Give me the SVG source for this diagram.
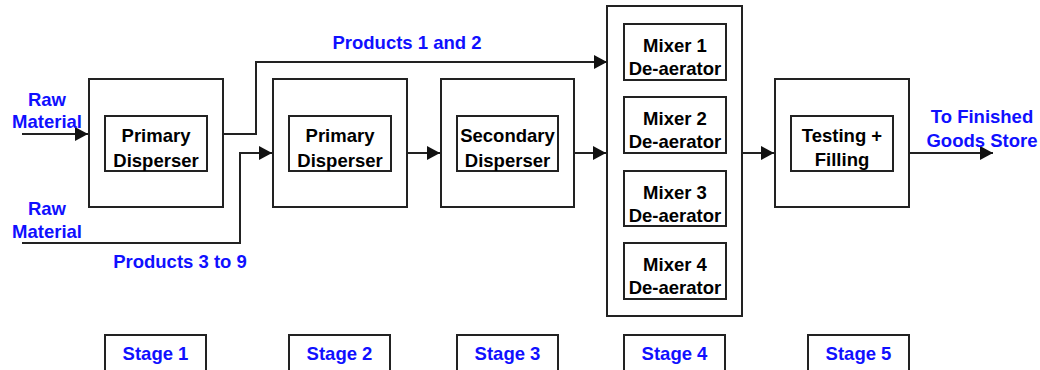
<svg xmlns="http://www.w3.org/2000/svg" width="1040" height="370" viewBox="0 0 1040 370">
<style>
.box{fill:#fff;stroke:#222;stroke-width:2}
.t{font-family:"Liberation Sans",Arial,sans-serif;font-weight:bold;font-size:18.5px;text-anchor:middle;fill:#000}
.b{fill:#1010ff}
.c{fill:none;stroke:#222;stroke-width:2}
</style>
<defs>
<marker id="ah" markerUnits="userSpaceOnUse" markerWidth="14" markerHeight="14" refX="13" refY="7" orient="auto">
<path d="M0,0 L13,7 L0,14 z" fill="#111"/>
</marker>
</defs>
<rect width="1040" height="370" fill="#fff"/>
<g id="stage1">
<rect class="box" x="89" y="79" width="134" height="128"/>
<rect class="box" x="105" y="116" width="102" height="55"/>
<text class="t" x="156" y="142">Primary</text>
<text class="t" x="156" y="167">Disperser</text>
</g>
<g id="stage2">
<rect class="box" x="273" y="79" width="134" height="128"/>
<rect class="box" x="289" y="116" width="102" height="55"/>
<text class="t" x="340" y="142">Primary</text>
<text class="t" x="340" y="167">Disperser</text>
</g>
<g id="stage3">
<rect class="box" x="441" y="79" width="133" height="128"/>
<rect class="box" x="457" y="116" width="101" height="55"/>
<text class="t" x="507.5" y="142">Secondary</text>
<text class="t" x="507.5" y="167">Disperser</text>
</g>
<g id="stage4">
<rect class="box" x="607" y="6" width="135" height="310"/>
<rect class="box" x="624" y="24" width="102" height="56"/>
<text class="t" x="675" y="52">Mixer 1</text>
<text class="t" x="675" y="75">De-aerator</text>
<rect class="box" x="624" y="97" width="102" height="56"/>
<text class="t" x="675" y="125">Mixer 2</text>
<text class="t" x="675" y="148">De-aerator</text>
<rect class="box" x="624" y="171" width="102" height="55"/>
<text class="t" x="675" y="199">Mixer 3</text>
<text class="t" x="675" y="222">De-aerator</text>
<rect class="box" x="624" y="243" width="102" height="56"/>
<text class="t" x="675" y="271">Mixer 4</text>
<text class="t" x="675" y="294">De-aerator</text>
</g>
<g id="stage5">
<rect class="box" x="775" y="79" width="134" height="128"/>
<rect class="box" x="791" y="116" width="102" height="55"/>
<text class="t" x="842" y="142">Testing +</text>
<text class="t" x="842" y="166">Filling</text>
</g>
<g id="connectors">
<path class="c" d="M22,134 H88" marker-end="url(#ah)"/>
<path class="c" d="M223,134 H256 V62 H607" marker-end="url(#ah)"/>
<path class="c" d="M22,243 H240 V153 H272" marker-end="url(#ah)"/>
<path class="c" d="M407,153 H440" marker-end="url(#ah)"/>
<path class="c" d="M574,153 H606" marker-end="url(#ah)"/>
<path class="c" d="M742,153 H774" marker-end="url(#ah)"/>
<path class="c" d="M909,153 H993" marker-end="url(#ah)"/>
</g>
<g id="labels">
<text class="t b" x="47" y="106">Raw</text>
<text class="t b" x="47" y="128">Material</text>
<text class="t b" x="47" y="215">Raw</text>
<text class="t b" x="47" y="238">Material</text>
<text class="t b" x="407" y="49">Products 1 and 2</text>
<text class="t b" x="180" y="268">Products 3 to 9</text>
<text class="t b" x="982" y="123">To Finished</text>
<text class="t b" x="982" y="147">Goods Store</text>
</g>
<g id="stage-label-1">
<rect class="box" x="105" y="335" width="101" height="50"/>
<text class="t b" x="155.5" y="360">Stage 1</text>
</g>
<g id="stage-label-2">
<rect class="box" x="289" y="335" width="101" height="50"/>
<text class="t b" x="339.5" y="360">Stage 2</text>
</g>
<g id="stage-label-3">
<rect class="box" x="457" y="335" width="101" height="50"/>
<text class="t b" x="507.5" y="360">Stage 3</text>
</g>
<g id="stage-label-4">
<rect class="box" x="624" y="335" width="101" height="50"/>
<text class="t b" x="674.5" y="360">Stage 4</text>
</g>
<g id="stage-label-5">
<rect class="box" x="808" y="335" width="101" height="50"/>
<text class="t b" x="858.5" y="360">Stage 5</text>
</g>
</svg>
